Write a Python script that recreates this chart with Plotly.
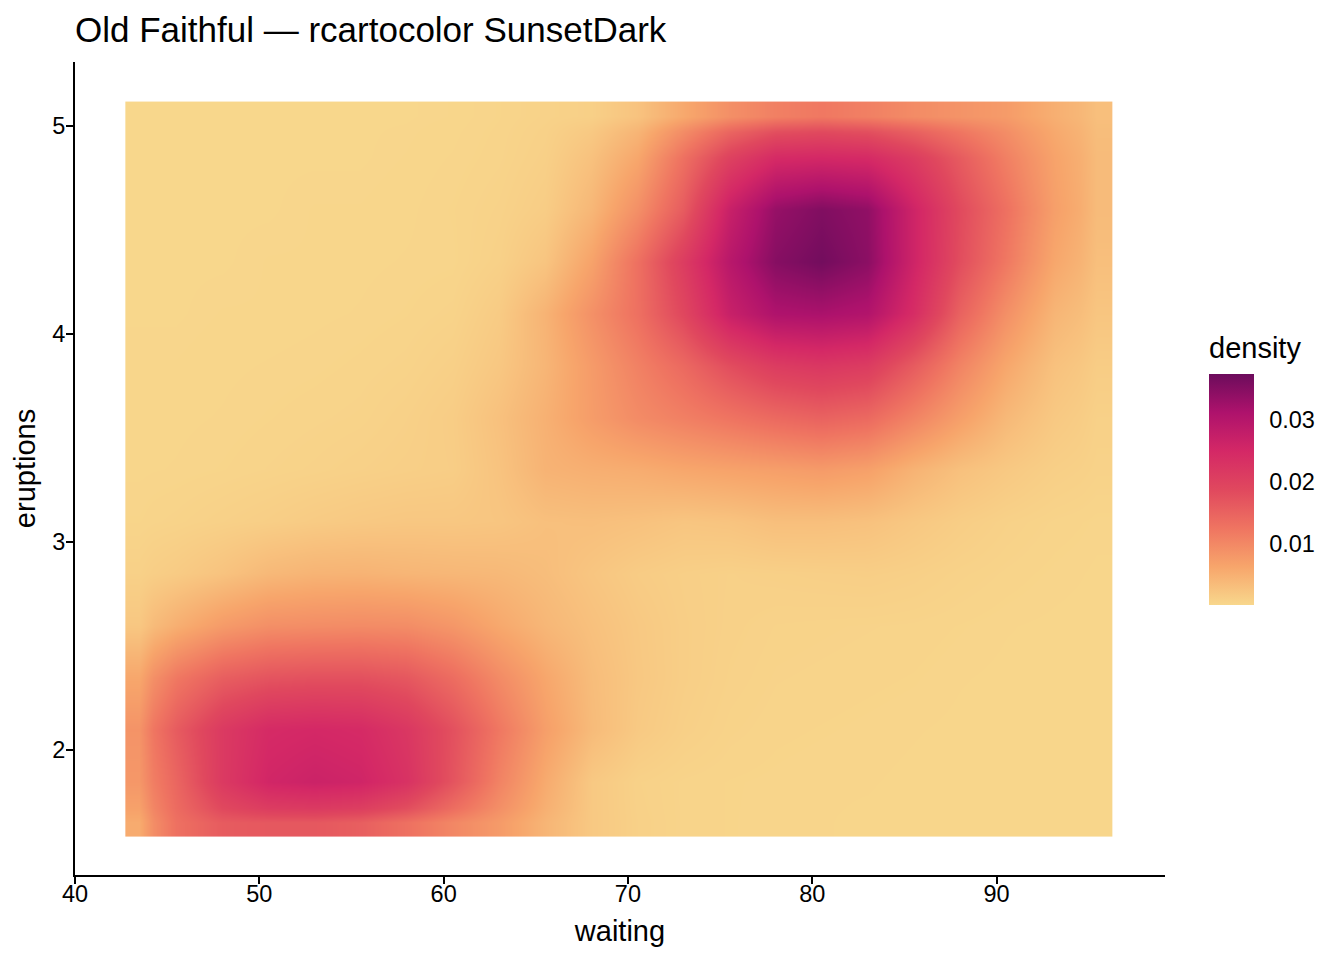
import numpy as np
import plotly.graph_objects as go

# --- data (2D density of Old Faithful) ---
waiting = [43, 45.5, 48, 50.5, 53, 55.5, 58, 60.5, 63, 65.5, 68, 70.5,
           73, 75.5, 78, 80.5, 83, 85.5, 88, 90.5, 93, 96]
eruptions = [1.6, 1.85, 2.1, 2.35, 2.6, 2.85, 3.1, 3.35, 3.6, 3.85,
             4.1, 4.35, 4.6, 4.85, 5.1]

# density in thousandths (rows = eruptions, columns = waiting)
density_milli = [
    [5.5, 13, 16, 16.5, 16.5, 15.5, 13, 10, 7.5, 4.2, 1.8, 0.8, 0.4, 0.3, 0.2, 0.2, 0.15, 0.1, 0.1, 0.1, 0.1, 0.1],
    [8, 14.5, 21.5, 25.5, 26.5, 25.8, 23, 17, 10.5, 5.5, 1.8, 0.7, 0.4, 0.3, 0.25, 0.2, 0.2, 0.15, 0.1, 0.1, 0.1, 0.1],
    [8.5, 16, 21.5, 24.5, 25, 24.5, 22, 17.5, 12, 7, 3.5, 1.7, 0.9, 0.5, 0.35, 0.3, 0.25, 0.2, 0.15, 0.12, 0.1, 0.1],
    [6, 12, 15.5, 17, 17.5, 17.5, 16.5, 13.5, 9.5, 6, 3.3, 1.9, 1.1, 0.65, 0.45, 0.4, 0.35, 0.3, 0.2, 0.15, 0.12, 0.1],
    [2, 5, 7.5, 9, 9.3, 9.5, 9.3, 8, 5.8, 4, 2.8, 1.8, 1.1, 0.75, 0.55, 0.5, 0.45, 0.4, 0.3, 0.2, 0.15, 0.1],
    [0.8, 1.5, 2.5, 3.8, 4.4, 4.5, 4.2, 4, 3.8, 3.2, 2.2, 1.4, 1, 0.8, 0.9, 1, 1.1, 0.9, 0.6, 0.4, 0.25, 0.15],
    [0.3, 0.5, 0.8, 1.1, 1.5, 1.8, 2, 2, 2.2, 2.9, 3, 2.7, 2.2, 2.4, 3, 3, 2.7, 1.9, 1.2, 0.7, 0.4, 0.25],
    [0.15, 0.2, 0.3, 0.45, 0.6, 0.8, 1, 1.2, 2.5, 4.5, 5, 5.3, 6, 6.5, 7, 7.5, 6.8, 4.5, 2.8, 1.8, 1, 0.6],
    [0.1, 0.15, 0.2, 0.3, 0.4, 0.5, 0.8, 1.3, 2.8, 4.8, 7.3, 9.5, 11, 12.5, 14, 15, 14, 10.5, 7, 3.8, 1.8, 0.8],
    [0.1, 0.1, 0.15, 0.2, 0.25, 0.35, 0.5, 0.9, 2, 4.2, 7.5, 10.8, 14, 18, 21, 22, 21, 16, 10.5, 6, 2.7, 1.3],
    [0.05, 0.05, 0.1, 0.1, 0.15, 0.2, 0.3, 0.5, 1.5, 4.5, 8.8, 13, 19, 27, 31, 31.5, 30.5, 24, 15, 9, 4.2, 2.2],
    [0.05, 0.05, 0.05, 0.1, 0.1, 0.15, 0.2, 0.25, 0.8, 2.3, 6.5, 13, 21, 29.5, 35, 36.8, 34.5, 26, 18, 12, 6, 3],
    [0.05, 0.05, 0.05, 0.05, 0.1, 0.1, 0.15, 0.3, 0.6, 1.3, 4, 9, 16, 27, 33.5, 35.5, 34, 26, 18.5, 13, 7, 3.5],
    [0.05, 0.05, 0.05, 0.05, 0.05, 0.05, 0.1, 0.2, 0.4, 0.9, 2.7, 6, 13, 20, 24.5, 25, 24.5, 21, 16, 11, 6.5, 3.5],
    [0.05, 0.05, 0.05, 0.05, 0.05, 0.05, 0.05, 0.1, 0.3, 0.6, 0.9, 2.5, 5.8, 9, 11, 12, 11, 9.5, 8.5, 7.5, 5, 3],
]

colorbar_ticks = [0.01, 0.02, 0.03]
x_ticks = [40, 50, 60, 70, 80, 90]
y_ticks = [2, 3, 4, 5]

# SunsetDark palette (as rendered in the reference)
sunset_dark = ["#f8d78c", "#f7a56b", "#ef7461", "#e0485e", "#d42866", "#ae126c", "#6c0c5c"]

density = np.array(density_milli) / 1000.0


def edges(centers, n_grid=100):
    c = np.asarray(centers, dtype=float)
    half = (c[-1] - c[0]) / (n_grid - 1) / 2.0
    mids = (c[:-1] + c[1:]) / 2.0
    return np.concatenate([[c[0] - half], mids, [c[-1] + half]])


x_edges = edges(waiting)
y_edges = edges(eruptions)

colorscale = [[i / (len(sunset_dark) - 1), col] for i, col in enumerate(sunset_dark)]

FONT = "Liberation Sans, Arial, Helvetica, sans-serif"
W, H = 1344, 960
L, R, T, B = 75, 1165, 62, 875  # plot area in pixels
PW, PH = R - L, B - T

fig = go.Figure(
    go.Heatmap(
        x=x_edges,
        y=y_edges,
        z=density,
        zsmooth="best",
        colorscale=colorscale,
        zmin=0,
        zmax=0.0375,
        colorbar=dict(
            xref="paper", yref="paper",
            x=(1209 - L) / PW, xanchor="left",
            y=(B - 489.5) / PH, yanchor="middle",
            thickness=45, thicknessmode="pixels",
            len=231, lenmode="pixels",
            xpad=0, ypad=0,
            outlinewidth=0,
            tickvals=colorbar_ticks,
            ticktext=[f"{v:.2f}" for v in colorbar_ticks],
            ticks="outside", ticklen=11, tickwidth=1, tickcolor="white",
            tickfont=dict(size=23.5, color="black", family=FONT),
        ),
        hovertemplate="waiting=%{x}<br>eruptions=%{y}<br>density=%{z}<extra></extra>",
    )
)

fig.update_layout(
    width=W, height=H,
    margin=dict(l=L, r=W - R, t=T, b=H - B),
    paper_bgcolor="white",
    plot_bgcolor="white",
    font=dict(family=FONT, color="black"),
    title=dict(
        text="Old Faithful — rcartocolor SunsetDark",
        font=dict(size=35, color="black", family=FONT),
        xref="container", yref="container",
        x=75 / W, xanchor="left",
        y=1 - 30 / H, yanchor="middle",
    ),
    annotations=[
        dict(
            text="density", showarrow=False,
            xref="paper", yref="paper",
            x=(1207 - L) / PW, xanchor="left",
            y=(B - 348) / PH, yanchor="middle",
            font=dict(size=29, color="black", family=FONT),
        )
    ],
)

fig.update_xaxes(
    range=[40, 99.14],
    tickvals=x_ticks,
    showgrid=False, zeroline=False,
    showline=True, linecolor="black", linewidth=2,
    ticks="outside", ticklen=7, tickwidth=2, tickcolor="black",
    ticklabelstandoff=-10,
    tickfont=dict(size=23.5, color="black"),
    automargin=False,
    title=dict(text="waiting", font=dict(size=29, color="black"), standoff=14),
)
fig.update_yaxes(
    range=[1.399, 5.308],
    tickvals=y_ticks,
    showgrid=False, zeroline=False,
    showline=True, linecolor="black", linewidth=2,
    ticks="outside", ticklen=7, tickwidth=2, tickcolor="black",
    ticklabelstandoff=-4,
    tickfont=dict(size=23.5, color="black"),
    automargin=False,
    title=dict(text="eruptions", font=dict(size=29, color="black"), standoff=8),
)

fig.write_html(
    "out.html",
    config={"displayModeBar": False},
    post_script="document.body.style.margin='0';",
)
